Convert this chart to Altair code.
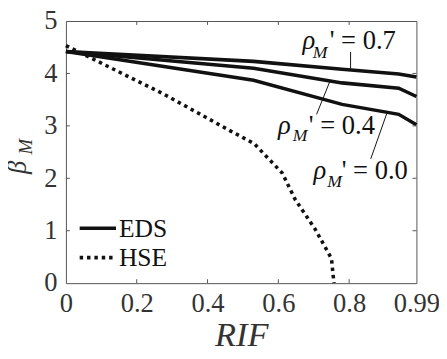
import altair as alt
import pandas as pd

# ---- data ----
rif_eds = [0.0, 0.53, 0.78, 0.94, 0.99]
eds_rho07 = [4.42, 4.23, 4.08, 3.99, 3.93]
eds_rho04 = [4.42, 4.10, 3.82, 3.72, 3.56]
eds_rho00 = [4.42, 3.87, 3.41, 3.22, 3.02]

rif_hse = [0.0, 0.093, 0.278, 0.463, 0.532, 0.611, 0.648, 0.704, 0.75, 0.757]
hse = [4.53, 4.22, 3.60, 2.91, 2.66, 2.10, 1.59, 1.03, 0.47, 0.0]

x_tick_values = [0, 0.2, 0.4, 0.6, 0.8, 0.99]
y_tick_values = [0, 1, 2, 3, 4, 5]
x_inner_ticks = [0.2, 0.4, 0.6, 0.8]
y_inner_ticks = [1, 2, 3, 4]

rho_values = ["0.7", "0.4", "0.0"]
# annotation anchor points (data units)
rho_x = [0.668, 0.599, 0.699]
rho_y = [4.465, 2.852, 1.989]
sub_x = [0.697, 0.641, 0.738]
sub_y = [4.296, 2.702, 1.839]
rest_x = [0.745, 0.686, 0.779]
# leader lines (data units)
lead_x = [0.804, 0.708, 0.861]
lead_y = [4.41, 3.22, 2.37]
lead_x2 = [0.804, 0.745, 0.907]
lead_y2 = [4.09, 3.84, 3.25]

legend_labels = ["EDS", "HSE"]

W, H = 357, 267
FONT = "'Liberation Serif', 'Times New Roman', serif"
INK = "#111111"
TXT = "#333333"

eds_df = pd.DataFrame({
    "x": rif_eds * 3,
    "y": eds_rho07 + eds_rho04 + eds_rho00,
    "rho": ["0.7"] * 5 + ["0.4"] * 5 + ["0.0"] * 5,
})
hse_df = pd.DataFrame({"x": rif_hse, "y": hse})
ann_df = pd.DataFrame({
    "x": rho_x, "y": rho_y, "sx": sub_x, "sy": sub_y, "tx": rest_x,
    "rest": ["' = " + v for v in rho_values],
    "lx": lead_x, "ly": lead_y, "lx2": lead_x2, "ly2": lead_y2,
})

xscale = alt.Scale(domain=[0, 0.99], nice=False, zero=False)
yscale = alt.Scale(domain=[0, 5], nice=False, zero=False)

xenc = alt.X("x:Q", scale=xscale, axis=alt.Axis(
    values=x_tick_values, format=".2~f", ticks=False, domain=False, grid=False,
    labelFont=FONT, labelFontSize=27, labelColor=TXT, labelPadding=8,
    labelFlush=False,
    title="RIF", titleFont=FONT, titleFontSize=35, titleFontStyle="italic",
    titleFontWeight="normal", titleColor=TXT, titlePadding=2))
yenc = alt.Y("y:Q", scale=yscale, axis=alt.Axis(
    values=y_tick_values, format="d", ticks=False, domain=False, grid=False,
    labelFont=FONT, labelFontSize=27, labelColor=TXT, labelPadding=9,
    labelFlush=False, title=None))

eds = alt.Chart(eds_df).mark_line(color=INK, strokeWidth=3.6).encode(
    x=xenc, y=yenc, detail="rho:N")
hse_line = alt.Chart(hse_df).mark_line(
    color=INK, strokeWidth=3.6, strokeDash=[3.5, 4], strokeCap="butt").encode(
    x="x:Q", y="y:Q")

leaders = alt.Chart(ann_df).mark_rule(color=INK, strokeWidth=1).encode(
    x="lx:Q", y="ly:Q", x2="lx2:Q", y2="ly2:Q")
rho_txt = alt.Chart(ann_df).mark_text(
    text="ρ", font=FONT, fontSize=27, fontStyle="italic", color=INK,
    align="left", baseline="alphabetic").encode(x="x:Q", y="y:Q")
sub_txt = alt.Chart(ann_df).mark_text(
    text="M", font=FONT, fontSize=18, fontStyle="italic", color=INK,
    align="left", baseline="alphabetic").encode(x="sx:Q", y="sy:Q")
rest_txt = alt.Chart(ann_df).mark_text(
    font=FONT, fontSize=27, color=INK, align="left",
    baseline="alphabetic").encode(x="tx:Q", y="y:Q", text="rest:N")

# inward ticks on all four sides
xt_df = pd.DataFrame({"x": x_inner_ticks})
yt_df = pd.DataFrame({"y": y_inner_ticks})
tick_col = "#555555"
xt_bottom = alt.Chart(xt_df).mark_rule(color=tick_col, strokeWidth=1).encode(
    x="x:Q", y=alt.value(H), y2=alt.value(H - 4))
xt_top = alt.Chart(xt_df).mark_rule(color=tick_col, strokeWidth=1).encode(
    x="x:Q", y=alt.value(0), y2=alt.value(4))
yt_left = alt.Chart(yt_df).mark_rule(color=tick_col, strokeWidth=1).encode(
    y="y:Q", x=alt.value(0), x2=alt.value(4))
yt_right = alt.Chart(yt_df).mark_rule(color=tick_col, strokeWidth=1).encode(
    y="y:Q", x=alt.value(W), x2=alt.value(W - 4))

# legend (drawn manually)
leg_df = pd.DataFrame({"label": legend_labels})
leg_solid = alt.Chart(leg_df).transform_filter("datum.label == 'EDS'").mark_rule(
    color=INK, strokeWidth=3.6).encode(
    x=alt.value(14), x2=alt.value(51), y=alt.value(211))
leg_dot = alt.Chart(leg_df).transform_filter("datum.label == 'HSE'").mark_rule(
    color=INK, strokeWidth=3.6, strokeDash=[3.5, 4], strokeCap="butt").encode(
    x=alt.value(14), x2=alt.value(51), y=alt.value(241))
leg_text1 = alt.Chart(leg_df).transform_filter("datum.label == 'EDS'").mark_text(
    font=FONT, fontSize=26, color=INK, align="left", baseline="middle").encode(
    x=alt.value(54), y=alt.value(212), text="label:N")
leg_text2 = alt.Chart(leg_df).transform_filter("datum.label == 'HSE'").mark_text(
    font=FONT, fontSize=26, color=INK, align="left", baseline="middle").encode(
    x=alt.value(54), y=alt.value(242), text="label:N")

# y title: beta with subscript M
ytitle_df = pd.DataFrame({"t": ["β"]})
beta = alt.Chart(ytitle_df).mark_text(
    font=FONT, fontSize=27, fontStyle="italic", color=TXT, angle=270,
    align="center", baseline="alphabetic").encode(
    x=alt.value(-41), y=alt.value(149), text="t:N")
beta_sub = alt.Chart(ytitle_df).mark_text(
    text="M", font=FONT, fontSize=19, fontStyle="italic", color=TXT, angle=270,
    align="center", baseline="alphabetic").encode(
    x=alt.value(-35), y=alt.value(128))

chart = alt.layer(
    eds, hse_line, leaders, rho_txt, sub_txt, rest_txt,
    xt_bottom, xt_top, yt_left, yt_right,
    leg_solid, leg_dot, leg_text1, leg_text2, beta, beta_sub,
).properties(
    width=W, height=H,
    autosize=alt.AutoSizeParams(type="none"),
    padding={"left": 59, "top": 10, "right": 23, "bottom": 74},
).configure_view(stroke="#555555", strokeWidth=1)

chart.save("out.html", embed_options={"renderer": "svg", "actions": False})
